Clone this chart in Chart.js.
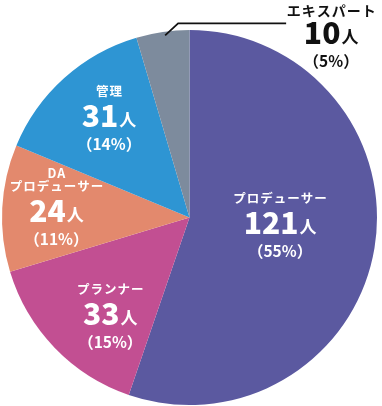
<!DOCTYPE html>
<html>
<head>
<meta charset="utf-8">
<script src="https://cdn.jsdelivr.net/npm/chart.js@4/dist/chart.umd.min.js"></script>
<style>
  html, body { margin: 0; padding: 0; background: #ffffff; }
  canvas { display: block; }
</style>
</head>
<body>
<canvas id="c" width="382" height="406"></canvas>
<script>
// ---- data ----
const categories = ["プロデューサー", "プランナー", "DA\nプロデューサー", "管理", "エキスパート"];
const counts = [121, 33, 24, 31, 10];
const percents = ["55%", "15%", "11%", "14%", "5%"];
const unitLabel = "人";
const colors = ["#5B59A0", "#C24F92", "#E3896D", "#2E95D3", "#7D8B9D"];

// label placement (relative to each arc): radius fraction, angle tweak (deg), inside/outside
const labelPlace = [
  { frac: 0.49, dAng: 0.3, inside: true },
  { frac: 0.71, dAng: -9.5, inside: true },
  { frac: 0.71, dAng: -4.4, inside: true },
  { frac: 0.65, dAng: 0.6, inside: true },
  { frac: 0.98, dAng: 0.6, inside: false }
];

const FONT = '"Noto Sans CJK JP", "Noto Sans", sans-serif';

function drawBlock(ctx, cx, baseY, title, count, pct, color, big) {
  ctx.save();
  ctx.fillStyle = color;
  const lines = title.split("\n");
  ctx.font = "bold " + (big ? 14 : 12.5) + "px " + FONT;
  ctx.textAlign = "center";
  ctx.textBaseline = "middle";
  try { ctx.letterSpacing = "1px"; } catch (e) {}
  for (let i = 0; i < lines.length; i++) {
    const y = baseY - (big ? 33 : 35) - (lines.length - 1 - i) * 13;
    ctx.fillText(lines[i], cx + 0.5, y);
  }
  try { ctx.letterSpacing = "0px"; } catch (e) {}
  const numFont = "900 30px " + FONT;
  const unitFont = "bold 17px " + FONT;
  ctx.font = numFont;
  const nw = ctx.measureText(String(count)).width;
  ctx.font = unitFont;
  const uw = ctx.measureText(unitLabel).width;
  const start = cx - (nw + uw + 1) / 2;
  ctx.textAlign = "left";
  ctx.textBaseline = "alphabetic";
  ctx.font = numFont;
  ctx.fillText(String(count), start, baseY + 1);
  ctx.font = unitFont;
  ctx.fillText(unitLabel, start + nw + 1, baseY);
  ctx.font = "bold 15.5px " + FONT;
  ctx.textAlign = "center";
  ctx.textBaseline = "middle";
  ctx.fillText("（" + pct + "）", cx, baseY + 18);
  ctx.restore();
}

const labelPlugin = {
  id: "sliceLabels",
  afterDatasetsDraw(chart) {
    const ctx = chart.ctx;
    const meta = chart.getDatasetMeta(0);
    meta.data.forEach((arc, i) => {
      const p = arc.getProps(["x", "y", "startAngle", "endAngle", "outerRadius"], true);
      const place = labelPlace[i];
      const mid = (p.startAngle + p.endAngle) / 2 + place.dAng * Math.PI / 180;
      const r = p.outerRadius * place.frac;
      const ax = p.x + Math.cos(mid) * r;
      const ay = p.y + Math.sin(mid) * r;
      if (place.inside) {
        drawBlock(ctx, ax, ay, categories[i], counts[i], percents[i], "#ffffff", false);
      } else {
        const ex = ax + 13, ey = ay - 12;
        const hx = ex + 108;
        ctx.save();
        ctx.strokeStyle = "#111111";
        ctx.lineWidth = 1.8;
        ctx.beginPath();
        ctx.moveTo(ax, ay);
        ctx.lineTo(ex, ey);
        ctx.lineTo(hx, ey);
        ctx.stroke();
        ctx.restore();
        drawBlock(ctx, hx + 45, ey + 20, categories[i], counts[i], percents[i], "#111111", true);
      }
    });
  }
};

new Chart(document.getElementById("c"), {
  type: "pie",
  data: {
    labels: categories,
    datasets: [{
      data: counts,
      backgroundColor: colors,
      borderWidth: 0
    }]
  },
  options: {
    responsive: false,
    animation: false,
    layout: { padding: { left: 2, right: 5, top: 30, bottom: 1 } },
    plugins: { legend: { display: false }, tooltip: { enabled: false } }
  },
  plugins: [labelPlugin]
});
</script>
</body>
</html>
